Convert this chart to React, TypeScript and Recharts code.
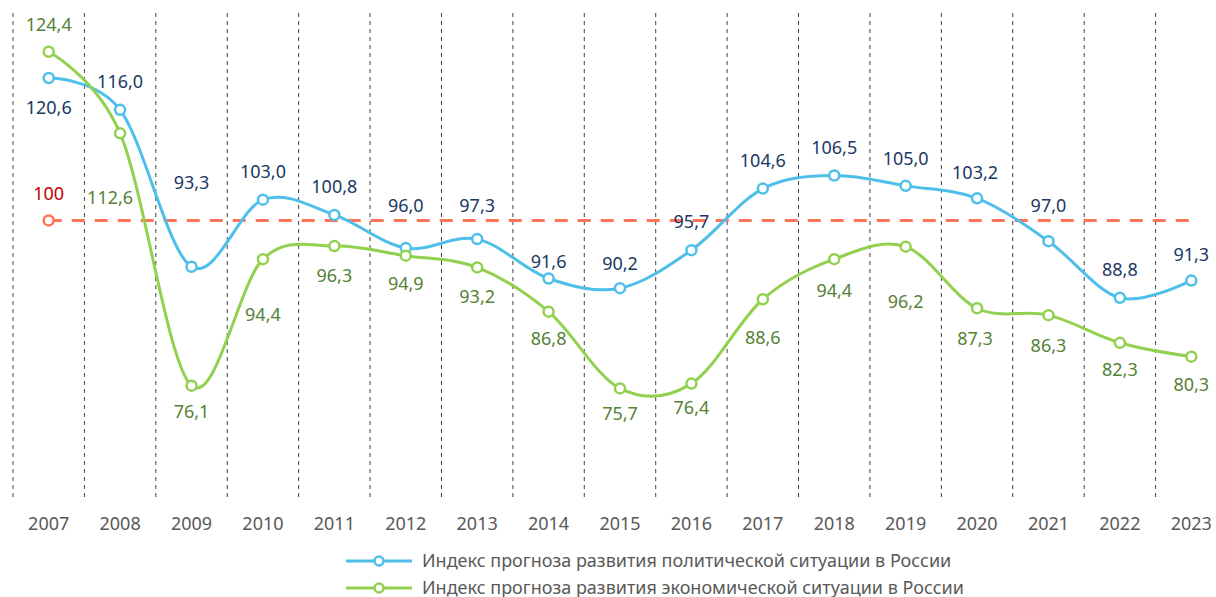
import React from 'react';
import { LineChart, Line, XAxis, YAxis, CartesianGrid, LabelList, Legend, ReferenceLine, ReferenceDot } from 'recharts';

const years = ['2007', '2008', '2009', '2010', '2011', '2012', '2013', '2014', '2015', '2016', '2017', '2018', '2019', '2020', '2021', '2022', '2023'];
const politicalIndex = [120.6, 116.0, 93.3, 103.0, 100.8, 96.0, 97.3, 91.6, 90.2, 95.7, 104.6, 106.5, 105.0, 103.2, 97.0, 88.8, 91.3];
const economicIndex = [124.4, 112.6, 76.1, 94.4, 96.3, 94.9, 93.2, 86.8, 75.7, 76.4, 88.6, 94.4, 96.2, 87.3, 86.3, 82.3, 80.3];
const baseLevel = 100;
const seriesNames = [
  'Индекс прогноза развития политической ситуации в России',
  'Индекс прогноза развития экономической ситуации в России',
];

const data = years.map((year, i) => ({ year, pol: politicalIndex[i], eco: economicIndex[i] }));

// label placement relative to each point (px)
const polDx = [0, 0, 0, 0, 0, 0, 0, 0, 0, 0, 0, 0, 0, -2, 0, 0, 0];
const polDy = [30, -28, -84, -28, -28, -43, -34, -17, -25, -29, -28, -28, -27, -26, -36, -28, -26];
const ecoDx = [0, -10, 0, 0, 0, 0, 0, 0, 0, 0, 0, 0, 0, -2, 0, 0, 0];
const ecoDy = [-27, 64, 26, 55, 30, 28, 29, 27, 25, 24, 38, 31, 55, 30, 30, 27, 28];

const FONT = '"Noto Sans", sans-serif';
const BLUE = '#4DBFE9';
const GREEN = '#92D050';
const RED = '#FF7358';
const colors = [BLUE, GREEN];

const fmt = (v: number) => v.toFixed(1).replace('.', ',');

// Catmull-Rom style smoothing, close to Excel's smoothed lines
function smoothCurve(context: any) {
  let x0 = NaN, y0 = NaN, x1 = NaN, y1 = NaN, x2 = NaN, y2 = NaN;
  let pt = 0;
  let line = NaN;
  const k = 1 / 6;
  const seg = (x: number, y: number) =>
    context.bezierCurveTo(x1 + k * (x2 - x0), y1 + k * (y2 - y0), x2 + k * (x1 - x), y2 + k * (y1 - y), x2, y2);
  return {
    areaStart() { line = 0; },
    areaEnd() { line = NaN; },
    lineStart() { x0 = x1 = x2 = y0 = y1 = y2 = NaN; pt = 0; },
    lineEnd() {
      if (pt === 2) context.lineTo(x2, y2);
      else if (pt === 3) seg(x1, y1);
      if (line || (line !== 0 && pt === 1)) context.closePath();
      line = 1 - line;
    },
    point(x: number, y: number) {
      x = +x; y = +y;
      if (pt === 0) { pt = 1; if (line) context.lineTo(x, y); else context.moveTo(x, y); }
      else if (pt === 1) { pt = 2; x1 = x; y1 = y; }
      else { if (pt === 2) pt = 3; seg(x, y); }
      x0 = x1; x1 = x2; x2 = x;
      y0 = y1; y1 = y2; y2 = y;
    },
  };
}

const makeLabel = (color: string, dxs: number[], dys: number[]) => (props: any) => {
  const x = props.x ?? props.viewBox?.x;
  const y = props.y ?? props.viewBox?.y;
  const i = props.index ?? 0;
  if (x == null || y == null || props.value == null) return null;
  return (
    <text x={x + dxs[i]} y={y + dys[i]} dy="0.36em" textAnchor="middle" fill={color} fontSize={18} fontFamily={FONT}>
      {fmt(Number(props.value))}
    </text>
  );
};

const renderBaseLabel = (props: any) => {
  const vb = props.viewBox || {};
  const cx = (vb.x ?? 0) + (vb.width ?? 0) / 2;
  const cy = (vb.y ?? 0) + (vb.height ?? 0) / 2;
  return (
    <text x={cx} y={cy - 27} dy="0.36em" textAnchor="middle" fill="#C00000" fontSize={18} fontFamily={FONT}>
      {baseLevel}
    </text>
  );
};

const renderLegend = () => (
  <svg width={680} height={50} style={{ display: 'block', overflow: 'visible' }}>
    {seriesNames.map((name, i) => (
      <g key={name} transform={`translate(0, ${13 + i * 27})`}>
        <line x1={1} x2={67} y1={0} y2={0} stroke={colors[i]} strokeWidth={3} />
        <circle cx={34} cy={0} r={4.5} fill="#fff" stroke={colors[i]} strokeWidth={2.5} />
        <text x={77} y={0} dy="0.36em" fontSize={18} fill="#595959" fontFamily={FONT}>{name}</text>
      </g>
    ))}
  </svg>
);

export default function App() {
  return (
    <div style={{ position: 'absolute', left: 8, top: 8, width: 1219, height: 589, fontFamily: FONT }}>
      <style>{'html, body { overflow: hidden; }'}</style>
      <LineChart width={1219} height={589} data={data} margin={{ top: 5, right: 0, bottom: 60, left: 5 }}>
        <CartesianGrid
          horizontal={false}
          stroke="#404040"
          strokeDasharray="4 4"
          verticalCoordinatesGenerator={({ offset }: any) =>
            Array.from({ length: years.length + 1 }, (_, i) => offset.left + (i * offset.width) / years.length)
          }
        />
        <XAxis
          dataKey="year"
          axisLine={false}
          tickLine={false}
          interval={0}
          tickMargin={14}
          height={40}
          padding={{ left: 35.7, right: 35.7 }}
          tick={{ fill: '#595959', fontSize: 18, fontFamily: FONT }}
        />
        <YAxis hide domain={[60, 130]} />
        <ReferenceLine
          segment={[{ x: years[0], y: baseLevel }, { x: years[years.length - 1], y: baseLevel }]}
          stroke={RED}
          strokeWidth={3}
          strokeDasharray="13 10"
        />
        <Line
          dataKey="pol"
          type={smoothCurve as any}
          stroke={BLUE}
          strokeWidth={3}
          dot={{ r: 5, fill: '#fff', stroke: BLUE, strokeWidth: 2.5 }}
          activeDot={false}
          isAnimationActive={false}
        >
          <LabelList dataKey="pol" content={makeLabel('#203864', polDx, polDy)} />
        </Line>
        <Line
          dataKey="eco"
          type={smoothCurve as any}
          stroke={GREEN}
          strokeWidth={3}
          dot={{ r: 5, fill: '#fff', stroke: GREEN, strokeWidth: 2.5 }}
          activeDot={false}
          isAnimationActive={false}
        >
          <LabelList dataKey="eco" content={makeLabel('#548235', ecoDx, ecoDy)} />
        </Line>
        <ReferenceDot x={years[0]} y={baseLevel} r={5} fill="#fff" stroke={RED} strokeWidth={2.5} label={renderBaseLabel} />
        <Legend
          layout="horizontal"
          verticalAlign="middle"
          align="center"
          wrapperStyle={{ top: 540, left: 337, width: 680, height: 49 }}
          content={renderLegend}
        />
      </LineChart>
    </div>
  );
}
